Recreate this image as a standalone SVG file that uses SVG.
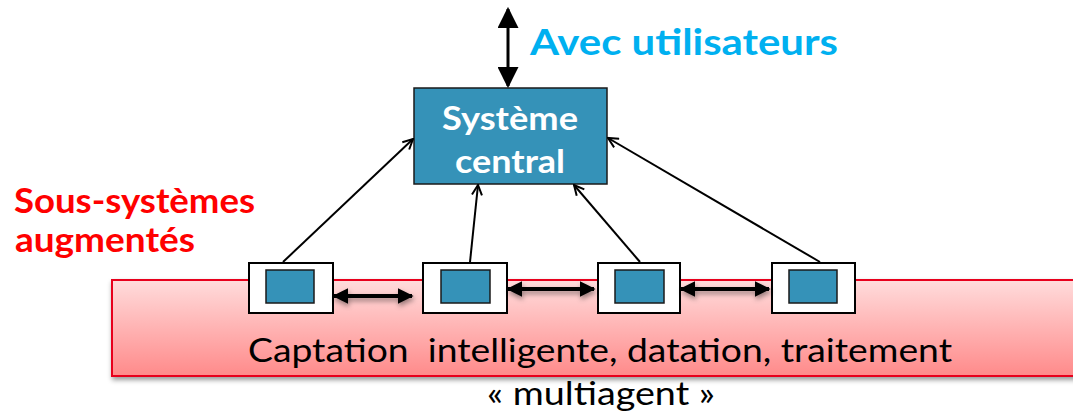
<svg xmlns="http://www.w3.org/2000/svg" width="1073" height="415" viewBox="0 0 1073 415">
  <style>
    .bold { font-family: Lato, "Open Sans", "Liberation Sans", sans-serif; font-weight: bold; }
    .reg { font-family: Lato, "Open Sans", "Liberation Sans", sans-serif; }
    .link { stroke: #000; stroke-width: 2; fill: none; marker-end: url(#thin); }
    .dbl { stroke: #000; stroke-width: 4; fill: none; marker-start: url(#thickStart); marker-end: url(#thickEnd); }
    .agent { fill: #fff; stroke: #000; stroke-width: 2; }
    .core { fill: #3592B8; stroke: #1a1a1a; stroke-width: 1.5; }
  </style>
  <defs>
    <linearGradient id="band" x1="0" y1="0" x2="0" y2="1">
      <stop offset="0" stop-color="#FFDCDC"/>
      <stop offset="1" stop-color="#FF8A8A"/>
    </linearGradient>
    <filter id="shadow" filterUnits="userSpaceOnUse" x="0" y="0" width="1073" height="415">
      <feDropShadow dx="1" dy="3" stdDeviation="2.5" flood-color="#000" flood-opacity="0.4"/>
    </filter>
    <marker id="thin" viewBox="0 0 12 12" refX="11" refY="6" markerWidth="12" markerHeight="12" markerUnits="userSpaceOnUse" orient="auto">
      <path d="M1,1 L11,6 L1,11" fill="none" stroke="#000" stroke-width="2"/>
    </marker>
    <marker id="thickEnd" viewBox="0 0 10 10" refX="9" refY="5" markerWidth="4" markerHeight="4" orient="auto">
      <path d="M0,0 L10,5 L0,10 Z" fill="#000"/>
    </marker>
    <marker id="thickStart" viewBox="0 0 10 10" refX="1" refY="5" markerWidth="4" markerHeight="4" orient="auto">
      <path d="M10,0 L0,5 L10,10 Z" fill="#000"/>
    </marker>
    <marker id="vEnd" viewBox="0 0 10 10" refX="9" refY="5" markerWidth="7" markerHeight="7" orient="auto">
      <path d="M0,0 L10,5 L0,10 Z" fill="#000"/>
    </marker>
    <marker id="vStart" viewBox="0 0 10 10" refX="1" refY="5" markerWidth="7" markerHeight="7" orient="auto">
      <path d="M10,0 L0,5 L10,10 Z" fill="#000"/>
    </marker>
  </defs>

  <!-- multi-agent layer -->
  <g id="layer">
    <rect x="112" y="280" width="970" height="96" fill="url(#band)" stroke="#E8001C" stroke-width="2" filter="url(#shadow)"/>
    <text class="reg" x="248" y="362" font-size="32" fill="#000" textLength="704" lengthAdjust="spacingAndGlyphs" xml:space="preserve">Captation  intelligente, datation, traitement</text>
  </g>
  <text id="multiagent" class="reg" x="487" y="405" font-size="32" fill="#000" textLength="228" lengthAdjust="spacingAndGlyphs">« multiagent »</text>

  <!-- side label -->
  <g id="subsystems">
    <text class="bold" x="14" y="213" font-size="35" fill="#FF0000" textLength="241" lengthAdjust="spacingAndGlyphs">Sous-systèmes</text>
    <text class="bold" x="15" y="252" font-size="35" fill="#FF0000" textLength="180" lengthAdjust="spacingAndGlyphs">augmentés</text>
  </g>

  <!-- users label -->
  <text id="users" class="bold" x="530" y="55" font-size="37" fill="#00B0F0" textLength="308" lengthAdjust="spacingAndGlyphs">Avec utilisateurs</text>

  <!-- central system -->
  <g id="central">
    <rect class="core" x="414" y="88" width="193" height="96"/>
    <text class="bold" x="442" y="130" font-size="32" fill="#fff" textLength="136" lengthAdjust="spacingAndGlyphs">Système</text>
    <text class="bold" x="455" y="173" font-size="32" fill="#fff" textLength="110" lengthAdjust="spacingAndGlyphs">central</text>
  </g>

  <!-- agents -->
  <g id="agent1">
    <rect class="agent" x="249" y="263" width="84" height="50"/>
    <rect class="core" x="266" y="270" width="48" height="33"/>
  </g>
  <g id="agent2">
    <rect class="agent" x="423" y="263" width="84" height="50"/>
    <rect class="core" x="441" y="270" width="49" height="33"/>
  </g>
  <g id="agent3">
    <rect class="agent" x="598" y="263" width="82" height="50"/>
    <rect class="core" x="615" y="270" width="49" height="33"/>
  </g>
  <g id="agent4">
    <rect class="agent" x="772" y="263" width="83" height="50"/>
    <rect class="core" x="789" y="270" width="48" height="33"/>
  </g>

  <!-- connectors -->
  <g id="connectors">
    <line x1="508" y1="86" x2="508" y2="9" stroke="#000" stroke-width="3" marker-start="url(#vStart)" marker-end="url(#vEnd)"/>
    <line class="link" x1="283" y1="262" x2="413" y2="139"/>
    <line class="link" x1="470" y1="262" x2="478" y2="185"/>
    <line class="link" x1="640" y1="262" x2="574" y2="185"/>
    <line class="link" x1="820" y1="262" x2="608" y2="138"/>
    <g filter="url(#shadow)">
      <line class="dbl" x1="334" y1="296" x2="412" y2="296"/>
      <line class="dbl" x1="508" y1="289" x2="594" y2="289"/>
      <line class="dbl" x1="681" y1="289" x2="769" y2="289"/>
    </g>
  </g>
</svg>
